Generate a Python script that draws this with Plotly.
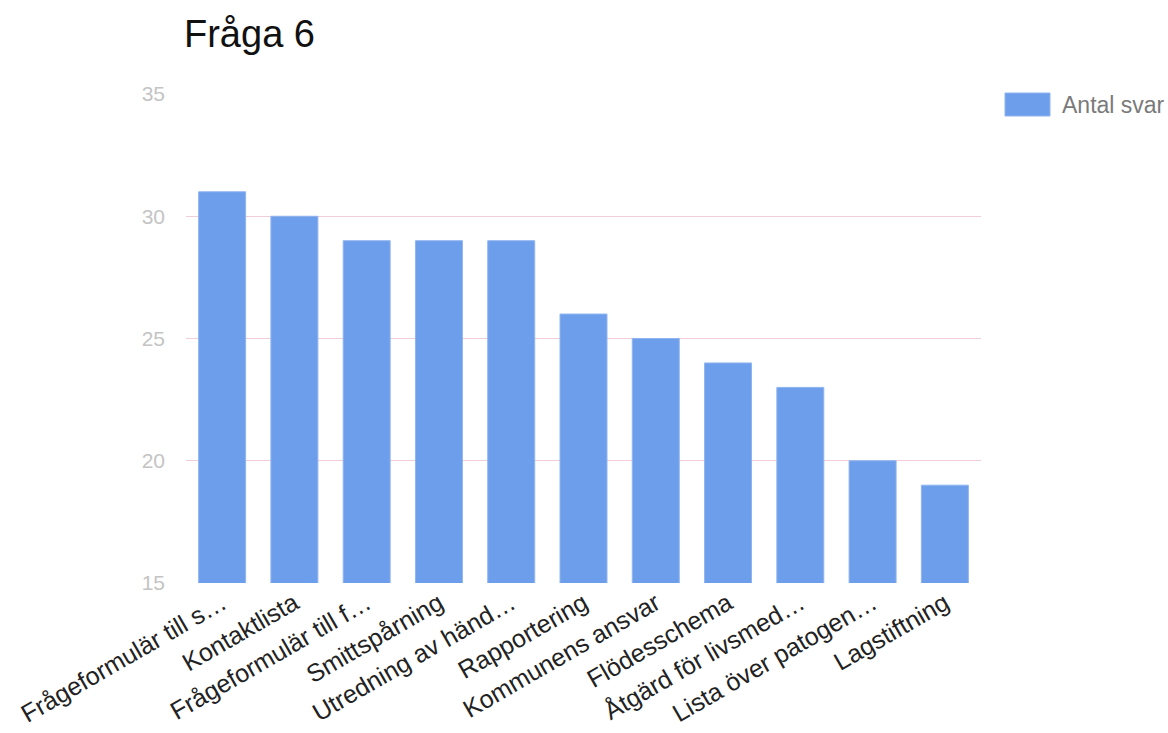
import plotly.graph_objects as go

categories = [
    "Frågeformulär till s…",
    "Kontaktlista",
    "Frågeformulär till f…",
    "Smittspårning",
    "Utredning av händ…",
    "Rapportering",
    "Kommunens ansvar",
    "Flödesschema",
    "Åtgärd för livsmed…",
    "Lista över patogen…",
    "Lagstiftning",
]
antal_svar = [31, 30, 29, 29, 29, 26, 25, 24, 23, 20, 19]
y_ticks = [15, 20, 25, 30, 35]
series_name = "Antal svar"

BAR_COLOR = "#6d9eeb"
W, H = 1168, 733

fig = go.Figure(
    go.Bar(
        x=categories,
        y=antal_svar,
        name=series_name,
        marker=dict(color=BAR_COLOR, line=dict(color="#8fb4f0", width=1)),
        showlegend=False,
    )
)

# Legend drawn as a wide swatch plus label, placed right of the plot area
fig.add_shape(
    type="rect",
    xref="paper", yref="paper",
    x0=(1005 - 186) / (W - 186 - 187), x1=(1050 - 186) / (W - 186 - 187),
    y0=(583 - 116) / (583 - 94), y1=(583 - 93) / (583 - 94),
    fillcolor=BAR_COLOR,
    line=dict(color="#8fb4f0", width=1),
)
fig.add_annotation(
    text=series_name,
    xref="paper", yref="paper",
    x=(1060 - 186) / (W - 186 - 187),
    y=(583 - 105) / (583 - 94),
    xanchor="left", yanchor="middle",
    showarrow=False,
    font=dict(size=23, color="#7a7a7a"),
)

fig.update_layout(
    width=W,
    height=H,
    margin=dict(l=186, r=187, t=94, b=150),
    paper_bgcolor="white",
    plot_bgcolor="white",
    font=dict(family="Liberation Sans, Arial, sans-serif", color="#222222"),
    title=dict(
        text="Fråga 6",
        x=184 / W,
        xanchor="left",
        y=1 - 34 / H,
        yanchor="middle",
        font=dict(size=38, color="#111111"),
    ),
    bargap=0.35,
    xaxis=dict(
        tickangle=-30,
        tickfont=dict(size=25, color="#222222"),
        showgrid=False,
        showline=False,
        ticks="",
        automargin=False,
    ),
    yaxis=dict(
        range=[15, 35],
        tickvals=y_ticks,
        tickfont=dict(size=21, color="#c4c4c4"),
        gridcolor="#f0cdd9",
        gridwidth=1,
        zeroline=False,
        showline=False,
        ticks="",
        ticklabelstandoff=20,
        automargin=False,
    ),
)

fig.write_html("out.html")
